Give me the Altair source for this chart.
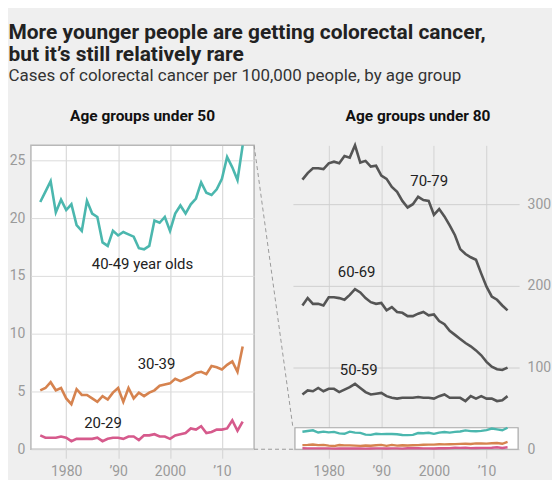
import altair as alt
import pandas as pd

years = list(range(1975, 2015))

s20_29 = [1.2, 1.0, 1.0, 1.0, 1.1, 1.0, 0.7, 0.9, 0.9, 0.9, 0.9, 1.0, 0.7, 0.9, 1.0, 1.0,
          0.9, 1.1, 1.1, 0.8, 1.2, 1.2, 1.3, 1.1, 1.1, 0.9, 1.2, 1.3, 1.4, 1.8, 1.7, 2.0,
          1.4, 1.5, 1.7, 1.7, 1.8, 2.5, 1.6, 2.4]
s30_39 = [5.1, 5.3, 5.8, 5.1, 5.3, 4.4, 3.9, 5.2, 4.7, 4.7, 4.4, 4.1, 4.6, 4.3, 4.9, 5.3,
          4.1, 5.3, 4.4, 4.9, 4.6, 4.9, 5.1, 5.5, 5.6, 5.7, 6.1, 5.9, 6.1, 6.3, 6.6, 6.7,
          6.5, 7.2, 7.1, 6.9, 7.3, 7.6, 6.7, 8.9]
s40_49 = [21.4, 22.3, 23.2, 20.5, 21.6, 20.7, 21.2, 19.4, 18.9, 21.5, 20.4, 20.1, 17.9, 17.6,
          18.9, 18.5, 18.8, 18.6, 18.4, 17.4, 17.3, 17.6, 19.8, 19.6, 20.1, 18.9, 20.4, 21.1,
          20.4, 21.2, 21.7, 23.1, 22.2, 22.0, 22.5, 23.4, 25.3, 24.4, 23.3, 26.3]
s50_59 = [67, 72, 71, 75, 71, 74, 74, 70, 73, 76, 80, 75, 70, 67, 68, 69, 65, 63, 62, 63,
          63, 63, 64, 63, 63, 62, 65, 67, 63, 63, 63, 59, 65, 62, 65, 62, 62, 59, 60, 65]
s60_69 = [176, 185, 178, 178, 176, 186, 186, 185, 183, 189, 196, 192, 185, 180, 178, 179,
          170, 174, 168, 167, 163, 163, 166, 168, 164, 165, 157, 153, 145, 140, 135, 130,
          126, 121, 115, 107, 101, 98, 97, 100]
s70_79 = [330, 338, 344, 344, 343, 350, 352, 350, 359, 357, 372, 351, 353, 346, 347, 335,
          331, 321, 315, 304, 296, 300, 309, 305, 304, 287, 294, 285, 274, 262, 245, 239,
          235, 232, 215, 199, 187, 183, 176, 170]

young_groups = ["20-29", "30-39", "40-49"]
young_colors = ["#d65a8c", "#d6834f", "#4bb7ae"]
old_groups = ["50-59", "60-69", "70-79"]

left_labels = ["40-49 year olds", "30-39", "20-29"]
left_label_x = [1994.7, 1997.4, 1987.1]
left_label_y = [16.0, 7.4, 2.25]
right_labels = ["70-79", "60-69", "50-59"]
right_label_x = [1999.1, 1985.3, 1985.7]
right_label_y = [328, 217, 97]

x_ticks = [1980, 1990, 2000, 2010]
left_y_ticks = [0, 5, 10, 15, 20, 25]
right_y_ticks = [0, 100, 200, 300]
x_domain = [1973.2, 2016.2]
left_max = 26.3
right_max = 372

rows = []
for name, vals in zip(young_groups + old_groups, [s20_29, s30_39, s40_49, s50_59, s60_69, s70_79]):
    for yr, v in zip(years, vals):
        rows.append({"year": yr, "value": v, "group": name})
df = pd.DataFrame(rows)
young = df[df["group"].isin(young_groups)]
old = df[df["group"].isin(old_groups)]

ldf = pd.DataFrame({"label": left_labels, "x": left_label_x, "y": left_label_y})
rdf = pd.DataFrame({"label": right_labels, "x": right_label_x, "y": right_label_y})
one = pd.DataFrame({"a": [0]})

W_L, W_R, H = 224, 227, 305
GAP = 39
box_top = H * (1 - left_max / right_max)

AX_FONT = "Liberation Sans Narrow, Roboto, sans-serif"
TXT_FONT = "Roboto, sans-serif"
label_expr = "datum.value == 1980 ? '1980' : datum.value == 1990 ? '’90' : datum.value == 2000 ? '2000' : '’10'"

def x_axis():
    return alt.Axis(values=x_ticks, labelExpr=label_expr, grid=True, gridColor="#d3d3d3",
                    domain=False, ticks=True, tickSize=9, tickColor="#d3d3d3",
                    labelColor="#9a9a9a", labelFont=AX_FONT, labelFontSize=14,
                    labelPadding=6, title=None)

xs = alt.Scale(domain=x_domain, nice=False, zero=False)
yl = alt.Scale(domain=[0, left_max], nice=False)
yr = alt.Scale(domain=[0, right_max], nice=False)
cs = alt.Scale(domain=young_groups, range=young_colors)

# ---------- left panel ----------
left_lines = alt.Chart(young).mark_line(strokeWidth=2.6).encode(
    x=alt.X("year:Q", scale=xs, axis=x_axis()),
    y=alt.Y("value:Q", scale=yl,
            axis=alt.Axis(values=left_y_ticks, orient="left", grid=True, gridColor="#dcdcdc",
                          domain=False, ticks=False, labelColor="#9a9a9a", labelFont=AX_FONT,
                          labelFontSize=14, labelPadding=6, title=None)),
    color=alt.Color("group:N", scale=cs, legend=None),
)
left_text = alt.Chart(ldf).mark_text(font=TXT_FONT, fontSize=15, color="#222").encode(
    x=alt.X("x:Q", scale=xs), y=alt.Y("y:Q", scale=yl), text="label:N")
conn_diag = alt.Chart(one).mark_rule(color="#9a9a9a", strokeDash=[4, 3], strokeWidth=1).encode(
    x=alt.value(W_L), x2=alt.value(W_L + GAP), y=alt.value(0), y2=alt.value(box_top))
conn_flat = alt.Chart(one).mark_rule(color="#9a9a9a", strokeDash=[4, 3], strokeWidth=1).encode(
    x=alt.value(W_L), x2=alt.value(W_L + GAP), y=alt.value(H), y2=alt.value(H))

left = alt.layer(left_lines, left_text, conn_diag, conn_flat).properties(
    width=W_L, height=H,
    view=alt.ViewBackground(fill="white", stroke="#b8b8b8", strokeWidth=1.5),
    title=alt.TitleParams("Age groups under 50", font=TXT_FONT, fontSize=15.5, fontWeight="bold",
                          color="#111", offset=16),
)

# ---------- right panel ----------
right_old = alt.Chart(old).mark_line(strokeWidth=2.6, color="#555555").encode(
    x=alt.X("year:Q", scale=xs, axis=x_axis()),
    y=alt.Y("value:Q", scale=yr,
            axis=alt.Axis(values=right_y_ticks, orient="right", grid=True, gridColor="#cfcfcf",
                          domain=False, ticks=False, labelColor="#9a9a9a", labelFont=AX_FONT,
                          labelFontSize=14, labelPadding=8, title=None)),
    detail="group:N",
)
zoom_box = alt.Chart(one).mark_rect(fill="white", stroke="#a8a8a8", strokeWidth=1.2).encode(
    x=alt.value(2), x2=alt.value(W_R - 1), y=alt.value(box_top), y2=alt.value(H))
right_young = alt.Chart(young).mark_line(strokeWidth=2.4).encode(
    x=alt.X("year:Q", scale=xs), y=alt.Y("value:Q", scale=yr),
    color=alt.Color("group:N", scale=cs, legend=None),
)
right_text = alt.Chart(rdf).mark_text(font=TXT_FONT, fontSize=15, color="#222").encode(
    x=alt.X("x:Q", scale=xs), y=alt.Y("y:Q", scale=yr), text="label:N")

right = alt.layer(right_old, zoom_box, right_young, right_text).properties(
    width=W_R, height=H,
    title=alt.TitleParams("Age groups under 80", font=TXT_FONT, fontSize=15.5, fontWeight="bold",
                          color="#111", offset=16, dx=12),
)

chart = alt.hconcat(left, right, spacing=GAP, bounds="flush").resolve_scale(
    color="shared").properties(
    title=alt.TitleParams(
        ["More younger people are getting colorectal cancer,", "but it’s still relatively rare"],
        subtitle="Cases of colorectal cancer per 100,000 people, by age group",
        anchor="start", frame="bounds", font=TXT_FONT, fontSize=21, fontWeight="bold",
        color="#222", lineHeight=22, subtitleFont=TXT_FONT, subtitleFontSize=17,
        subtitleColor="#333", subtitlePadding=3, offset=24),
).configure(background="#efefef", padding={"left": 0, "top": 13, "right": 0, "bottom": 0}
).configure_view(stroke="transparent")

chart.save("out.html", embed_options={"renderer": "svg", "actions": False})
